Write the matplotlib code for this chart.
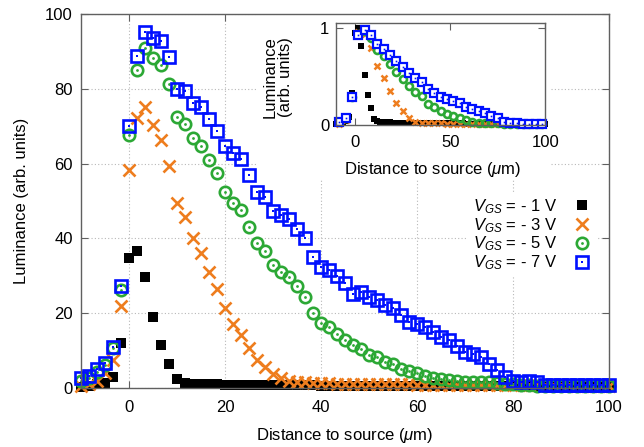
import numpy as np
import matplotlib
matplotlib.use('Agg')
import matplotlib.pyplot as plt
from matplotlib.patches import Rectangle

plt.rcParams['font.family'] = 'Liberation Sans'
plt.rcParams['mathtext.fontset'] = 'custom'
plt.rcParams['mathtext.it'] = 'Liberation Sans:italic'
plt.rcParams['mathtext.rm'] = 'Liberation Sans'

# measurement positions along the channel (5/3 um pitch)
dist = np.linspace(-10, 100, 67)

lum_1V = [0.3, 0.6, 1.0, 1.4, 3.0, 12.0,
          34.8, 36.7, 29.8, 19.1, 11.5, 6.3, 2.3,
          1.4, 1.2, 1.1, 1.0, 1.0, 0.9, 0.9, 0.9,
          0.8, 0.8, 0.8, 0.8, 0.7, 0.7, 0.7, 0.7, 0.7, 0.6,
          0.6, 0.6, 0.6, 0.6, 0.6, 0.6, 0.6, 0.6, 0.6, 0.6,
          0.5, 0.5, 0.5, 0.5, 0.5, 0.5, 0.5, 0.5, 0.5, 0.5,
          0.5, 0.5, 0.4, 0.4, 0.4, 0.4, 0.4, 0.4, 0.4, 0.4,
          0.4, 0.4, 0.4, 0.4, 0.4, 0.4]
lum_3V = [0.5, 1.0, 1.8, 4.1, 7.5, 21.9,
          58.3, 72.1, 75.0, 70.3, 66.3, 59.4, 49.5,
          45.6, 40.2, 36.2, 31.1, 26.4, 21.3, 17.1, 14.2,
          10.6, 7.5, 5.5, 3.8, 2.6, 2.0, 1.7, 1.5, 1.4, 1.3,
          1.3, 1.2, 1.2, 1.2, 1.1, 1.1, 1.1, 1.0, 1.0, 1.0,
          1.0, 0.9, 0.9, 0.9, 0.9, 0.8, 0.8, 0.8, 0.8, 0.8,
          0.7, 0.7, 0.7, 0.7, 0.7, 0.7, 0.7, 0.7, 0.7, 0.7,
          0.7, 0.6, 0.6, 0.6, 0.6, 0.6]
lum_5V = [2.0, 2.6, 4.2, 6.1, 10.6, 26.2,
          67.6, 85.0, 90.8, 88.3, 86.4, 81.2, 72.4,
          70.6, 66.8, 64.8, 61.0, 57.4, 52.5, 49.5, 47.6,
          43.1, 38.9, 36.5, 33.0, 31.1, 29.6, 27.3, 24.2, 20.0, 17.5,
          16.4, 14.5, 12.8, 11.5, 10.3, 8.8, 8.2, 7.0, 6.5, 5.2,
          4.5, 4.0, 3.1, 2.7, 2.3, 2.1, 1.9, 1.7, 1.6, 1.5,
          1.5, 1.4, 1.2, 1.0, 0.8, 0.7, 0.6, 0.6, 0.6, 0.5,
          0.5, 0.5, 0.5, 0.5, 0.5, 0.5]
lum_7V = [2.8, 3.2, 5.1, 6.8, 11.0, 27.3,
          70.0, 88.8, 95.3, 93.7, 92.9, 88.6, 80.0,
          79.5, 76.3, 75.2, 71.9, 68.8, 64.8, 62.9, 61.2,
          57.0, 52.3, 51.1, 47.4, 46.3, 45.1, 42.4, 40.0, 35.1, 32.4,
          31.6, 29.9, 28.0, 25.1, 25.7, 24.2, 23.5, 22.2, 21.5, 19.5,
          17.7, 17.1, 16.2, 15.0, 13.6, 12.8, 11.3, 9.6, 9.2, 8.2,
          6.4, 4.8, 3.0, 1.8, 1.7, 2.0, 1.7, 0.9, 0.8, 0.7,
          0.8, 0.7, 0.7, 0.8, 0.7, 0.8]

labels = [r'$V_{GS}$ = - 1 V', r'$V_{GS}$ = - 3 V',
          r'$V_{GS}$ = - 5 V', r'$V_{GS}$ = - 7 V']
orange = '#ee7d1e'
green = '#2ca835'
blue = '#0010ff'
spine_col = '#606060'
fs = 12

fig = plt.figure(figsize=(6.44, 4.47), dpi=100)
ax = fig.add_axes([0.1258, 0.132, 0.8199, 0.8367])


def style_axes(a, pad_x, pad_y):
    for s in a.spines.values():
        s.set_color(spine_col)
        s.set_linewidth(1.0)
    a.tick_params(direction='in', top=True, right=True, length=5,
                  color=spine_col, labelsize=fs)
    a.tick_params(axis='x', pad=pad_x)
    a.tick_params(axis='y', pad=pad_y)


def draw_series(a, x, ys, ms, mew, dot_ms):
    h1, = a.plot(x, ys[0], 's', color='k', ms=ms[0], mew=0, ls='none', clip_on=False)
    h2, = a.plot(x, ys[1], 'x', color=orange, ms=ms[1], mew=mew, ls='none', clip_on=False)
    h3a, = a.plot(x, ys[2], 'o', mfc='none', mec=green, ms=ms[2], mew=mew,
                  ls='none', clip_on=False)
    h3b, = a.plot(x, ys[2], 'o', color=green, ms=dot_ms, mew=0, ls='none', clip_on=False)
    h4a, = a.plot(x, ys[3], 's', mfc='none', mec=blue, ms=ms[3], mew=mew,
                  ls='none', clip_on=False)
    h4b, = a.plot(x, ys[3], 's', color=blue, ms=dot_ms, mew=0, ls='none', clip_on=False)
    return [h1, h2, (h3a, h3b), (h4a, h4b)]


handles = draw_series(ax, dist, [lum_1V, lum_3V, lum_5V, lum_7V],
                      ms=[7.5, 8.5, 8.2, 8.2], mew=1.9, dot_ms=2.0)

ax.set_xlim(-10, 100)
ax.set_ylim(0, 100)
ax.set_xticks([0, 20, 40, 60, 80, 100])
ax.set_yticks([0, 20, 40, 60, 80, 100])
ax.set_axisbelow(True)
ax.grid(True, ls=(0, (1, 2)), color='#b8b8b8', lw=0.8)
style_axes(ax, 9, 6)

ax.set_xlabel('Distance to source ($\\mu$m)', fontsize=fs)
ax.set_ylabel('Luminance (arb. units)', fontsize=fs)
ax.xaxis.label.set_va('center')
ax.yaxis.label.set_va('center')
ax.xaxis.set_label_coords(0.5, -0.128)
ax.yaxis.set_label_coords(-0.112, 0.5)

# blank area behind the inset and its labels
ax.add_patch(Rectangle((0.4006, 0.597), 0.455, 0.38, transform=fig.transFigure,
                       facecolor='white', edgecolor='none', zorder=1))

leg = ax.legend(handles, labels, loc='center right', bbox_to_anchor=(0.993, 0.41),
                markerfirst=False, frameon=True, fontsize=fs, labelspacing=0.0,
                handletextpad=0.9, handlelength=1.2, borderpad=0.3,
                numpoints=1)
leg.get_frame().set_facecolor('white')
leg.get_frame().set_edgecolor('none')
leg.get_frame().set_alpha(1)
for t in leg.get_texts():
    t.set_ha('right')

# normalised profiles in the inset
norm = [np.array(v) / max(v) for v in [lum_1V, lum_3V, lum_5V, lum_7V]]
axin = fig.add_axes([0.522, 0.7204, 0.3245, 0.2276])
axin.plot(dist, norm[0], 's', color='k', ms=4.2, mew=0, ls='none', clip_on=False)
axin.plot(dist[1::2], norm[1][1::2], 'x', color=orange, ms=5, mew=1.8, ls='none', clip_on=False)
axin.plot(dist[1::2], norm[2][1::2], 'o', mfc='none', mec=green, ms=5, mew=1.9,
          ls='none', clip_on=False)
axin.plot(dist[1::2], norm[3][1::2], 's', mfc='white', mec=blue, ms=5.2, mew=1.6,
          ls='none', clip_on=False)
axin.plot(dist[1::2], norm[3][1::2], 's', color=blue, ms=1.2, mew=0, ls='none', clip_on=False)
axin.set_xlim(-10, 100)
axin.set_ylim(0, 1.05)
axin.set_xticks([0, 50, 100])
axin.set_yticks([0, 1])
style_axes(axin, 7, 5)
axin.set_xlabel('Distance to source ($\\mu$m)', fontsize=fs)
axin.set_ylabel('Luminance\n(arb. units)', fontsize=fs, linespacing=1.0)
axin.xaxis.label.set_va('center')
axin.yaxis.label.set_va('center')
axin.xaxis.set_label_coords(0.464, -0.44)
axin.yaxis.set_label_coords(-0.28, 0.47)

fig.savefig('out.png', dpi=100)
